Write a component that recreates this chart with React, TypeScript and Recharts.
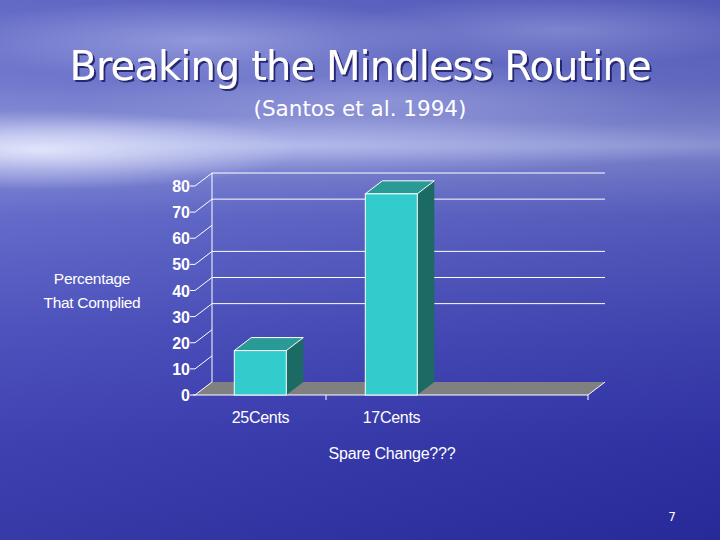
import React from 'react';
import { BarChart, Bar, XAxis, YAxis, CartesianGrid, ReferenceArea } from 'recharts';

// Santos et al. 1994 - "spare change" request compliance
const categories = ['25Cents', '17Cents', ' '];
const complied = [17, 77, null];
const yTicks = [0, 10, 20, 30, 40, 50, 60, 70, 80];
// back wall gridlines that show on the slide
const gridValues = [30, 40, 50, 70, 80];

const data = categories.map((name, i) => ({ name, complied: complied[i] }));

// 3D depth offset (front plane is left/down of the back wall)
const DX = 17;
const DY = 13;

const FRONT = '#33CCCC';
const TOP = '#2A9A96';
const SIDE = '#1C6A64';
const FLOOR = '#808080';
const AXIS_FONT = '"Liberation Sans", Arial, sans-serif';
const TITLE_FONT = '"DejaVu Sans", Verdana, sans-serif';

const Bar3D = (props: any) => {
  const { x, y, width, height } = props;
  if (!height || height <= 0) return <g />;
  const fx = x - DX;
  const fy = y + DY;
  return (
    <g>
      <polygon
        points={`${fx + width},${fy} ${x + width},${y} ${x + width},${y + height} ${fx + width},${fy + height}`}
        fill={SIDE}
      />
      <polygon
        points={`${fx},${fy} ${fx + width},${fy} ${x + width},${y} ${x},${y}`}
        fill={TOP}
        stroke="#fff"
        strokeWidth={1}
      />
      <rect x={fx} y={fy} width={width} height={height} fill={FRONT} stroke="#fff" strokeWidth={1} />
    </g>
  );
};

// floor + left wall edge, drawn from the plot area rectangle
const Floor = (props: any) => {
  const { x, y, width, height } = props;
  const by = y + height;
  const n = categories.length;
  const band = width / n;
  return (
    <g>
      <polygon
        points={`${x - DX},${by + DY} ${x + width - DX},${by + DY} ${x + width},${by} ${x},${by}`}
        fill={FLOOR}
      />
      <line x1={x} y1={y} x2={x} y2={by} stroke="#fff" strokeWidth={1} />
      <line x1={x - DX - 2} y1={by + DY} x2={x + width - DX} y2={by + DY} stroke="#fff" strokeWidth={1.2} />
      <line x1={x + width - DX} y1={by + DY} x2={x + width} y2={by} stroke="#fff" strokeWidth={1} />
      {[1, n].map((k) => (
        <line
          key={k}
          x1={x + band * k - DX}
          y1={by + DY}
          x2={x + band * k - DX}
          y2={by + DY + 5}
          stroke="#fff"
          strokeWidth={1}
        />
      ))}
    </g>
  );
};

const YTick = (props: any) => {
  const { x, y, payload } = props;
  const fx = x - DX;
  const fy = y + DY;
  return (
    <g>
      <line x1={fx} y1={fy} x2={x} y2={y} stroke="#fff" strokeWidth={1} />
      <line x1={fx - 5} y1={fy} x2={fx} y2={fy} stroke="#fff" strokeWidth={1} />
      <text
        x={fx - 5}
        y={fy + 6}
        textAnchor="end"
        fill="#fff"
        fontSize={16}
        fontWeight="bold"
        fontFamily={AXIS_FONT}
      >
        {payload.value}
      </text>
    </g>
  );
};

const XTick = (props: any) => {
  const { x, y, payload } = props;
  return (
    <text
      x={x - DX}
      y={y + DY + 28}
      textAnchor="middle"
      fill="#fff"
      fontSize={16}
      fontFamily={AXIS_FONT}
      letterSpacing={-0.3}
    >
      {payload.value}
    </text>
  );
};

const background = [
  'radial-gradient(ellipse 260px 40px at 40px 150px, rgba(235,238,255,0.85), rgba(235,238,255,0) 100%)',
  'radial-gradient(ellipse 420px 30px at 300px 145px, rgba(210,215,250,0.5), rgba(210,215,250,0) 100%)',
  'radial-gradient(ellipse 260px 40px at 200px 40px, rgba(200,205,245,0.45), rgba(200,205,245,0) 100%)',
  'radial-gradient(ellipse 220px 35px at 560px 30px, rgba(190,195,240,0.35), rgba(190,195,240,0) 100%)',
  'radial-gradient(ellipse 300px 40px at 380px 100px, rgba(190,195,240,0.35), rgba(190,195,240,0) 100%)',
  'linear-gradient(to right, rgba(255,255,255,0.06), rgba(0,0,40,0.08))',
  'linear-gradient(to bottom, #5860c2 0%, #6870ca 15%, #7c84d2 22%, #959de0 27%, #7a82d2 30%, #5a62c6 40%, #4247b8 62%, #3335ac 82%, #2b2da2 100%)',
].join(', ');

export default function App() {
  return (
    <div style={{ position: 'absolute', left: 0, top: 0, width: 720, height: 540, background, overflow: 'hidden' }}>
      <svg width={720} height={540} style={{ position: 'absolute', left: 0, top: 0 }}>
        <defs>
          <filter id="shadow" x="-10%" y="-30%" width="120%" height="160%">
            <feDropShadow dx={2} dy={2} stdDeviation={0.6} floodColor="#1b1e6a" floodOpacity={0.9} />
          </filter>
        </defs>
        <text
          x={360}
          y={80}
          textAnchor="middle"
          fill="#fff"
          fontSize={40}
          letterSpacing={-0.9}
          fontFamily={TITLE_FONT}
          filter="url(#shadow)"
        >
          Breaking the Mindless Routine
        </text>
        <text x={360} y={116} textAnchor="middle" fill="#fff" fontSize={21.5} fontFamily={TITLE_FONT}>
          (Santos et al. 1994)
        </text>
        <text x={92} y={284} textAnchor="middle" fill="#fff" fontSize={15.5} fontFamily={AXIS_FONT} letterSpacing={-0.3}>
          Percentage
        </text>
        <text x={92} y={308} textAnchor="middle" fill="#fff" fontSize={15.5} fontFamily={AXIS_FONT} letterSpacing={-0.3}>
          That Complied
        </text>
        <text x={392} y={459} textAnchor="middle" fill="#fff" fontSize={16} fontFamily={AXIS_FONT} letterSpacing={-0.2}>
          Spare Change???
        </text>
        <text x={672} y={521} textAnchor="middle" fill="#fff" fontSize={12} fontFamily={TITLE_FONT}>
          7
        </text>
      </svg>
      <div style={{ position: 'absolute', left: 0, top: 0 }}>
        <BarChart
          width={720}
          height={540}
          data={data}
          margin={{ top: 173, right: 115, left: 152, bottom: 98 }}
          barCategoryGap="30%"
        >
          <CartesianGrid horizontal vertical={false} horizontalValues={gridValues} stroke="#fff" strokeWidth={1} />
          <ReferenceArea y1={0} y2={80} shape={Floor} ifOverflow="visible" />
          <XAxis
            dataKey="name"
            type="category"
            axisLine={false}
            tickLine={false}
            tickSize={0}
            tickMargin={0}
            height={60}
            interval={0}
            tick={XTick}
          />
          <YAxis
            type="number"
            domain={[0, 80]}
            ticks={yTicks}
            interval={0}
            axisLine={false}
            tickLine={false}
            tickSize={0}
            tickMargin={0}
            width={60}
            tick={YTick}
          />
          <Bar dataKey="complied" shape={Bar3D} isAnimationActive={false} />
        </BarChart>
      </div>
    </div>
  );
}
